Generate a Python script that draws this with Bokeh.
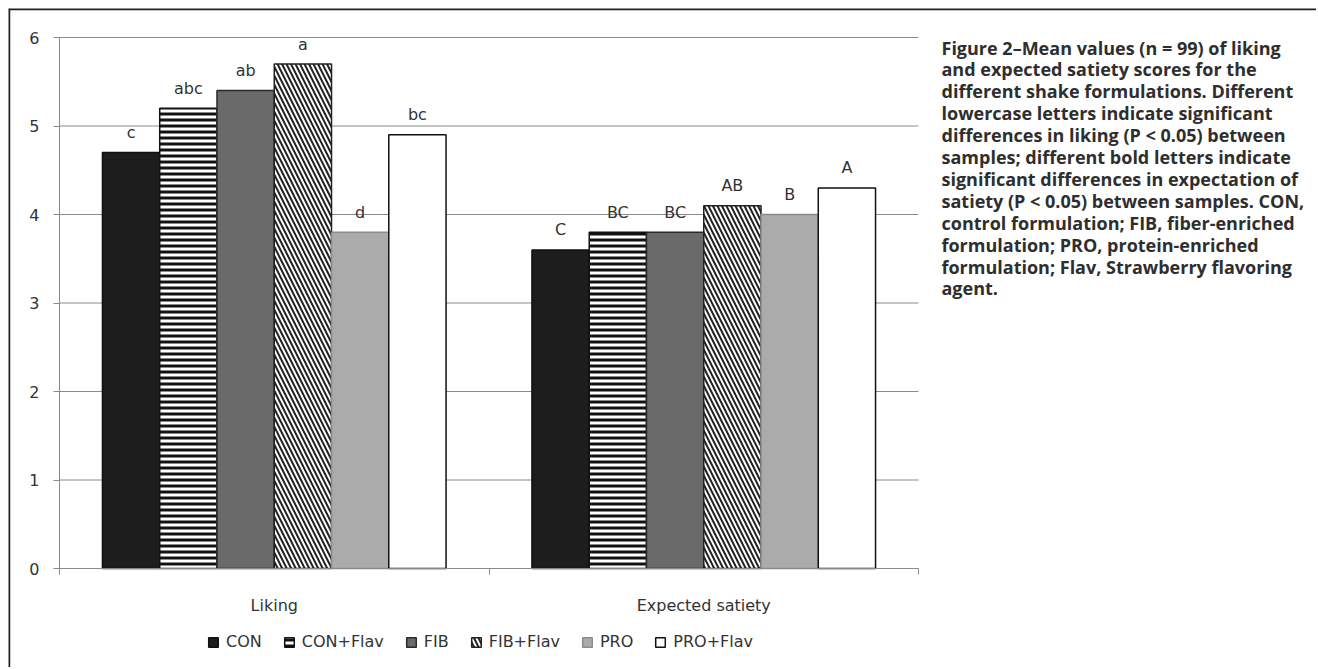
from bokeh.plotting import figure
from bokeh.models import (Range1d, FixedTicker, LinearAxis, Label, Legend,
                          LegendItem, ColumnDataSource, Span)
from bokeh.core.properties import value
from bokeh.embed import file_html
from bokeh.resources import INLINE

# ---------------- data ----------------
categories = ["Liking", "Expected satiety"]
series_names = ["CON", "CON+Flav", "FIB", "FIB+Flav", "PRO", "PRO+Flav"]

con = [4.7, 3.6]
con_flav = [5.2, 3.8]
fib = [5.4, 3.8]
fib_flav = [5.7, 4.1]
pro = [3.8, 4.0]
pro_flav = [4.9, 4.3]

letters_con = ["c", "C"]
letters_con_flav = ["abc", "BC"]
letters_fib = ["ab", "BC"]
letters_fib_flav = ["a", "AB"]
letters_pro = ["d", "B"]
letters_pro_flav = ["bc", "A"]

y_ticks = [0, 1, 2, 3, 4, 5, 6]

caption_lines = [
    "Figure 2\u2013Mean values (n = 99) of liking",
    "and expected satiety scores for the",
    "different shake formulations. Different",
    "lowercase letters indicate significant",
    "differences in liking (P < 0.05) between",
    "samples; different bold letters indicate",
    "significant differences in expectation of",
    "satiety (P < 0.05) between samples. CON,",
    "control formulation; FIB, fiber-enriched",
    "formulation; PRO, protein-enriched",
    "formulation; Flav, Strawberry flavoring",
    "agent.",
]

series_values = [con, con_flav, fib, fib_flav, pro, pro_flav]
series_letters = [letters_con, letters_con_flav, letters_fib,
                  letters_fib_flav, letters_pro, letters_pro_flav]

# ---------------- styles / layout ----------------
FONT = "DejaVu Sans"
CAP_FONT = "Open Sans"
TXT = "#333333"
AX = "#8a8a8a"

styles = [
    dict(fill_color="#1d1d1d", line_color="#111111"),
    dict(fill_color="white", hatch_pattern="horizontal_line", hatch_color="#111111",
         hatch_weight=3, hatch_scale=6, line_color="#111111"),
    dict(fill_color="#6a6a6a", line_color="#2a2a2a"),
    dict(fill_color="white", hatch_pattern="left_diagonal_line", hatch_color="#222222",
         hatch_weight=2, hatch_scale=9, line_color="#222222"),
    dict(fill_color="#ababab", line_color="#8c8c8c"),
    dict(fill_color="white", line_color="#111111"),
]

n_series = len(series_names)
bar_w = 1.0 / (n_series + 1.5)   # Excel-style gap width 150%

ORIGIN = 8                          # css margin of the figure
FIG_W, FIG_H = 1308, 659
CHART_LEFT, CHART_TOP = 59, 37      # page position of value axis / top gridline
CHART_PX_W = 859                    # pixel width of the two category slots
CHART_PX_H = 531                    # pixel height of the 0..6 value span
y_top = max(y_ticks)
px_x = CHART_PX_W / len(categories)
px_y = CHART_PX_H / y_top
x_start = -(CHART_LEFT - ORIGIN) / px_x
x_end = x_start + FIG_W / px_x
y_end = y_top + (CHART_TOP - ORIGIN) / px_y
y_start = y_end - FIG_H / px_y
frame_left = ORIGIN
frame_bottom = ORIGIN + FIG_H

p = figure(width=FIG_W, height=FIG_H, x_range=Range1d(x_start, x_end),
           y_range=Range1d(y_start, y_end), output_backend="svg",
           toolbar_location=None, x_axis_type=None, y_axis_type=None,
           min_border=0, min_border_left=0, min_border_right=0,
           min_border_top=0, min_border_bottom=0)
p.outline_line_color = None
p.background_fill_color = "white"
p.border_fill_color = "white"
p.styles = {"margin-top": f"{ORIGIN}px", "margin-left": f"{ORIGIN}px"}

# outer frame lines (top and left) of the figure panel
p.add_layout(Span(location=y_end, dimension="width", line_color="#222222",
                  line_width=3.5))
p.add_layout(Span(location=x_start, dimension="height", line_color="#222222",
                  line_width=3.5))

# y axis drawn at x = 0
yticker = FixedTicker(ticks=y_ticks)
yaxis = LinearAxis(ticker=yticker, bounds=(0, y_top), fixed_location=0)
yaxis.axis_line_color = AX
yaxis.major_tick_line_color = AX
yaxis.major_tick_out = 6
yaxis.major_tick_in = 0
yaxis.minor_tick_line_color = None
yaxis.major_label_text_font = FONT
yaxis.major_label_text_font_size = "16px"
yaxis.major_label_text_color = TXT
yaxis.major_label_standoff = 14
p.add_layout(yaxis, "left")

# horizontal gridlines limited to the category area
p.segment(x0=[0] * len(y_ticks), x1=[len(categories)] * len(y_ticks),
          y0=y_ticks, y1=y_ticks, line_color=AX, line_width=1)

# x axis drawn at y = 0: labels at category centres, ticks at category boundaries
centres = [i + 0.5 for i in range(len(categories))]
bounds = [float(i) for i in range(len(categories) + 1)]
xaxis = LinearAxis(ticker=FixedTicker(ticks=centres, minor_ticks=bounds),
                   bounds=(0, len(categories)), fixed_location=0)
xaxis.major_label_overrides = {c: name for c, name in zip(centres, categories)}
xaxis.axis_line_color = AX
xaxis.major_tick_line_color = None
xaxis.major_tick_out = 0
xaxis.major_tick_in = 0
xaxis.minor_tick_line_color = AX
xaxis.minor_tick_out = 6
xaxis.minor_tick_in = 0
xaxis.major_label_text_font = FONT
xaxis.major_label_text_font_size = "16px"
xaxis.major_label_text_color = TXT
xaxis.major_label_standoff = 21
p.add_layout(xaxis, "below")

# bars + significance letters
items = []
for j, (name, vals, lets, st) in enumerate(zip(series_names, series_values,
                                               series_letters, styles)):
    xs = [c + (j - (n_series - 1) / 2) * bar_w for c in centres]
    src = ColumnDataSource(dict(x=xs, top=vals, lab=lets))
    r = p.vbar(x="x", top="top", width=bar_w, source=src, line_width=1.5, **st)
    items.append(LegendItem(label=name, renderers=[r]))
    p.text(x="x", y="top", text="lab", source=src, text_align="center",
           text_baseline="alphabetic", y_offset=-20,
           text_font=value(FONT), text_font_size="16px", text_color=TXT)

# legend inside the frame (screen offsets from the frame's bottom-left)
legend = Legend(items=items, orientation="horizontal",
                location=(207 - frame_left, frame_bottom - 651))
legend.border_line_color = None
legend.background_fill_alpha = 0
legend.padding = 0
legend.margin = 0
legend.spacing = 21
legend.glyph_width = 12
legend.glyph_height = 12
legend.label_standoff = 7
legend.label_height = 14
legend.label_text_font = FONT
legend.label_text_font_size = "16px"
legend.label_text_color = TXT
p.add_layout(legend)

# caption (screen units relative to the plot frame)
cap_x = 941
first_centre = 47      # page y of first caption line
line_gap = 21.9
for k, line in enumerate(caption_lines):
    p.add_layout(Label(x=cap_x - frame_left,
                       y=frame_bottom - (first_centre + k * line_gap),
                       x_units="screen", y_units="screen", text=line,
                       text_baseline="middle", text_align="left",
                       text_font=CAP_FONT, text_font_style="bold",
                       text_font_size="18px", text_color="#2e2e2e"))

open("out.html", "w").write(file_html(p, INLINE))
